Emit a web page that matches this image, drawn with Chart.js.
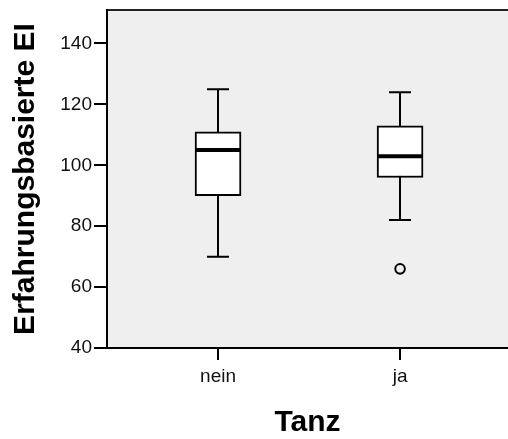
<!DOCTYPE html>
<html>
<head>
<meta charset="utf-8">
<script src="https://cdn.jsdelivr.net/npm/chart.js@4.4.0/dist/chart.umd.min.js"></script>
<style>
    html, body { margin: 0; padding: 0; background: #ffffff; }
    #boxplot { display: block; }
</style>
</head>
<body>
<canvas id="boxplot" width="508" height="439"></canvas>
<script>
// Boxplot values per group
const categories = ['nein', 'ja'];
const whiskerLow = [70, 82];
const q1 = [90, 96];
const median = [105, 103];
const q3 = [111, 113];
const whiskerHigh = [125, 124];
const outliers = [[], [66]];
const yTicks = [40, 60, 80, 100, 120, 140];

// Box data for the floating bars
const boxData = categories.map((c, i) => ({ x: i + 1, y: [q1[i], q3[i]] }));

// Outlier points
const outlierData = [];
outliers.forEach((list, i) => {
    list.forEach(v => outlierData.push({ x: i + 1, y: v }));
});

// Plugin for background, whiskers and medians
const boxplotPlugin = {
    id: 'boxplotPlugin',
    beforeDraw(chart) {
        const { ctx, chartArea } = chart;
        ctx.save();
        ctx.fillStyle = '#ffffff';
        ctx.fillRect(0, 0, chart.width, chart.height);
        ctx.fillStyle = '#efefef';
        ctx.fillRect(chartArea.left, chartArea.top, chartArea.right - chartArea.left, chartArea.bottom - chartArea.top);
        // top frame line
        ctx.strokeStyle = '#222222';
        ctx.lineWidth = 2;
        ctx.beginPath();
        ctx.moveTo(chartArea.left, chartArea.top);
        ctx.lineTo(chartArea.right, chartArea.top);
        ctx.stroke();
        ctx.restore();
    },
    beforeDatasetsDraw(chart) {
        const { ctx } = chart;
        const xs = chart.scales.x;
        const ys = chart.scales.y;
        ctx.save();
        ctx.strokeStyle = '#000000';
        ctx.lineWidth = 2;
        categories.forEach((c, i) => {
            const x = Math.round(xs.getPixelForValue(i + 1));
            const lo = ys.getPixelForValue(whiskerLow[i]);
            const hi = ys.getPixelForValue(whiskerHigh[i]);
            const capHalf = 11;
            ctx.beginPath();
            ctx.moveTo(x, lo);
            ctx.lineTo(x, hi);
            ctx.moveTo(x - capHalf, lo);
            ctx.lineTo(x + capHalf, lo);
            ctx.moveTo(x - capHalf, hi);
            ctx.lineTo(x + capHalf, hi);
            ctx.stroke();
        });
        ctx.restore();
    },
    afterDatasetsDraw(chart) {
        const { ctx } = chart;
        const xs = chart.scales.x;
        const ys = chart.scales.y;
        ctx.save();
        ctx.strokeStyle = '#000000';
        ctx.lineWidth = 4;
        categories.forEach((c, i) => {
            const x = Math.round(xs.getPixelForValue(i + 1));
            const m = ys.getPixelForValue(median[i]);
            ctx.beginPath();
            ctx.moveTo(x - 22, m);
            ctx.lineTo(x + 22, m);
            ctx.stroke();
        });
        ctx.restore();
    }
};

// Function to create the boxplot
function createBoxplot() {
    const ctx = document.getElementById('boxplot').getContext('2d');
    new Chart(ctx, {
        type: 'bar',
        data: {
            datasets: [{
                type: 'bar',
                data: boxData,
                backgroundColor: '#ffffff',
                borderColor: '#000000',
                borderWidth: 2,
                borderSkipped: false,
                barThickness: 46
            }, {
                type: 'scatter',
                data: outlierData,
                backgroundColor: 'rgba(0,0,0,0)',
                borderColor: '#000000',
                borderWidth: 2,
                pointRadius: 4.8
            }]
        },
        options: {
            responsive: false,
            animation: false,
            layout: {
                autoPadding: false,
                padding: { top: 10, right: 0, bottom: 0, left: 0 }
            },
            plugins: {
                legend: { display: false },
                tooltip: { enabled: false }
            },
            scales: {
                x: {
                    type: 'linear',
                    offset: false,
                    min: 0.39,
                    max: 2.593,
                    afterBuildTicks: scale => {
                        scale.ticks = categories.map((c, i) => ({ value: i + 1 }));
                    },
                    afterFit: scale => {
                        scale.height = 91;
                        scale.paddingLeft = 0;
                        scale.paddingRight = 0;
                    },
                    grid: {
                        display: true,
                        offset: false,
                        drawOnChartArea: false,
                        drawTicks: true,
                        tickLength: 12,
                        color: '#000000',
                        lineWidth: 2
                    },
                    border: { display: true, color: '#000000', width: 2 },
                    ticks: {
                        color: '#111111',
                        font: { family: 'Liberation Sans, Arial, sans-serif', size: 19 },
                        padding: 5,
                        maxRotation: 0,
                        autoSkip: false,
                        callback: v => categories[v - 1]
                    },
                    title: {
                        display: true,
                        text: 'Tanz',
                        color: '#000000',
                        font: { family: 'Liberation Sans, Arial, sans-serif', size: 30, weight: 'bold', lineHeight: 1 },
                        padding: { top: 0, bottom: 1 }
                    }
                },
                y: {
                    min: 40,
                    max: 151,
                    afterBuildTicks: scale => {
                        scale.ticks = yTicks.map(v => ({ value: v }));
                    },
                    afterFit: scale => {
                        scale.width = 107;
                        scale.paddingTop = 0;
                        scale.paddingBottom = 0;
                    },
                    grid: {
                        display: true,
                        drawOnChartArea: false,
                        drawTicks: true,
                        tickLength: 13,
                        color: '#000000',
                        lineWidth: 2
                    },
                    border: { display: true, color: '#000000', width: 2 },
                    ticks: {
                        color: '#111111',
                        font: { family: 'Liberation Sans, Arial, sans-serif', size: 19 },
                        padding: 2
                    },
                    title: {
                        display: true,
                        text: 'Erfahrungsbasierte EI',
                        color: '#000000',
                        font: { family: 'Liberation Sans, Arial, sans-serif', size: 30, weight: 'bold' },
                        padding: { top: 8, bottom: 0 }
                    }
                }
            }
        },
        plugins: [boxplotPlugin]
    });
}

// Call the function to create the boxplot
createBoxplot();
</script>
</body>
</html>
